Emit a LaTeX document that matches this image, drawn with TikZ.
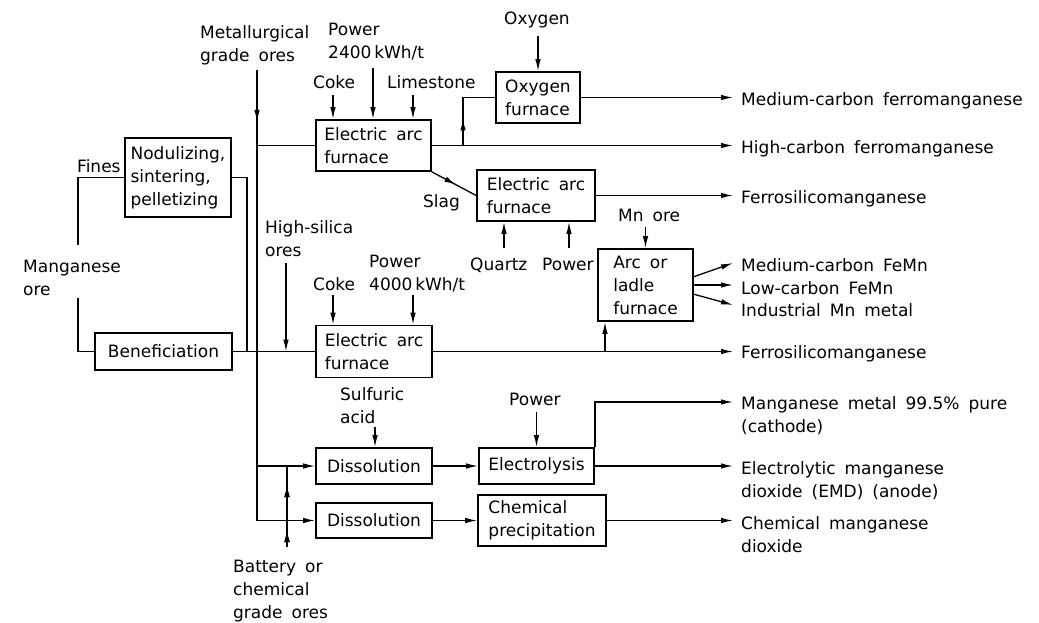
\documentclass[tikz,border=0pt]{standalone}
\usepackage{fontspec}
\setmainfont{DejaVu Sans}
\usetikzlibrary{arrows.meta,decorations.markings,calc}
\newcommand\diagfont{\fontsize{17}{23}\selectfont\spaceskip=9pt\relax}
\begin{document}
\begin{tikzpicture}[x=1pt,y=-1pt,
  >={Latex[length=12pt,width=5.5pt]},
  every node/.style={font=\diagfont},
  flow/.style={line width=1.3pt},
  box/.style={draw, line width=1.7pt, inner sep=0pt, align=left},
  lbl/.style={inner sep=0pt, anchor=north west, align=left},
  midarrow/.style={postaction={decorate}, decoration={markings, mark=at position #1 with {\arrow{>}}}}
]
\useasboundingbox (0,0) rectangle (1039,623);

% boxes
\node[box, minimum width=106, minimum height=79] (nod) at (178,177.5) {Nodulizing,\\sintering,\\pelletizing};
\node[box, align=center, minimum width=137, minimum height=37] (ben) at (163.5,351.5) {Beneficiation};
\node[box, minimum width=115, minimum height=51] (eaf1) at (373.5,145.5) {Electric arc\\furnace};
\node[box, minimum width=84, minimum height=51] (oxf) at (538,97.5) {Oxygen\\furnace};
\node[box, minimum width=118, minimum height=51] (eaf2) at (536,195.5) {Electric arc\\furnace};
\node[box, minimum width=116, minimum height=52] (eaf3) at (374,351.5) {Electric arc\\furnace};
\node[box, minimum width=95, minimum height=72] (alf) at (645.5,285) {Arc or\\ladle\\furnace};
\node[box, align=center, minimum width=116, minimum height=36] (dis1) at (374,466) {Dissolution};
\node[box, align=center, minimum width=116, minimum height=35] (dis2) at (374,520.5) {Dissolution};
\node[box, align=center, minimum width=115, minimum height=36] (ely) at (536.5,466) {Electrolysis};
\node[box, minimum width=128, minimum height=51] (chp) at (542,520.5) {Chemical\\precipitation};

% labels
\node[lbl] (lmet) at (200,25) {Metallurgical\\grade ores};
\node[lbl] (lpw1) at (328,23) {Power\\2400\,kWh/t};
\node[lbl] (lck1) at (313,75) {Coke};
\node[lbl] (llim) at (387,75) {Limestone};
\node[lbl] (loxy) at (504,12) {Oxygen};
\node[lbl] (lfin) at (77,159) {Fines};
\node[lbl] (lman) at (23,260) {Manganese\\ore};
\node[lbl] (lhis) at (265,220) {High-silica\\ores};
\node[lbl] (lslg) at (423,194) {Slag};
\node[lbl] (lmno) at (618,209) {Mn ore};
\node[lbl] (lqtz) at (470,258) {Quartz};
\node[lbl] (lpw2) at (542,258) {Power};
\node[lbl] (lck2) at (313,277) {Coke};
\node[lbl] (lpw3) at (369,255) {Power\\4000\,kWh/t};
\node[lbl] (lsul) at (340,387) {Sulfuric\\acid};
\node[lbl] (lpw4) at (509,393) {Power};
\node[lbl] (lbat) at (233,560) {Battery or\\chemical\\grade ores};

\node[lbl] (r1) at (741,92) {Medium-carbon ferromanganese};
\node[lbl] (r2) at (741,140) {High-carbon ferromanganese};
\node[lbl] (r3) at (741,190) {Ferrosilicomanganese};
\node[lbl] (r4) at (741,258) {Medium-carbon FeMn};
\node[lbl] (r5) at (741,281) {Low-carbon FeMn};
\node[lbl] (r6) at (741,303) {Industrial Mn metal};
\node[lbl] (r7) at (741,345) {Ferrosilicomanganese};
\node[lbl] (r8) at (741,396) {Manganese metal 99.5\% pure\\(cathode)};
\node[lbl] (r9) at (741,461) {Electrolytic manganese\\dioxide (EMD) (anode)};
\node[lbl] (r10) at (741,516) {Chemical manganese\\dioxide};

% coordinates
\coordinate (f1) at (78,245);
\coordinate (f2) at (78,298);
\coordinate (jn) at (247,351.5);
\coordinate (mt) at (257,70);
\coordinate (mb) at (257,466);
\coordinate (me) at (257,145.5);
\coordinate (bat) at (287,547);
\coordinate (batt) at (287,466);
\coordinate (hs) at (286,263);
\coordinate (c1) at (333,95);
\coordinate (p1) at (373,68);
\coordinate (l1) at (413,95);
\coordinate (o1) at (733,145.5);
\coordinate (br) at (463,145.5);
\coordinate (ox) at (538,36);
\coordinate (o0) at (733,97.5);
\coordinate (o2) at (733,195.5);
\coordinate (qz) at (504,248);
\coordinate (pw2) at (569,248);
\coordinate (mn) at (645.5,227);
\coordinate (c3) at (333,295);
\coordinate (p3) at (413,295);
\coordinate (o3) at (733,351.5);
\coordinate (up) at (605,351.5);
\coordinate (a1s) at (693,277);
\coordinate (a3s) at (693,294);
\coordinate (a1) at (733,263);
\coordinate (a2) at (733,285);
\coordinate (a3) at (733,305);
\coordinate (sa) at (375,427);
\coordinate (pw4) at (536.5,412);
\coordinate (m1) at (733,402);
\coordinate (m2) at (733,466);
\coordinate (m3) at (733,520.5);

% connectors
\draw[flow] (nod.west) -| (f1);
\draw[flow] (f2) |- (ben.west);
\draw[flow] (nod.east) -| (jn);
\draw[flow] (ben.east) -- (eaf3.west);
\draw[flow, midarrow=52pt] (mt) -- (mb);
\draw[flow] (me) -- (eaf1.west);
\draw[flow, ->] (mb) -- (dis1.west);
\draw[flow, ->] (mb) |- (dis2.west);
\draw[flow, midarrow=62pt, midarrow=17pt] (bat) -- (batt);
\draw[flow, ->] (hs) -- (hs |- ben.east);
\draw[flow, ->] (c1) -- (c1 |- eaf1.north);
\draw[flow, ->] (p1) -- (p1 |- eaf1.north);
\draw[flow, ->] (l1) -- (l1 |- eaf1.north);
\draw[flow, ->] (eaf1.east) -- (o1);
\draw[flow, midarrow=27pt] (br) |- (oxf.west);
\draw[flow, ->] (ox) -- (oxf.north);
\draw[flow, ->] (oxf.east) -- (o0);
\draw[flow, midarrow=0.55] (eaf1.south east) -- (eaf2.west);
\draw[flow, ->] (eaf2.east) -- (o2);
\draw[flow, ->] (qz) -- (qz |- eaf2.south);
\draw[flow, ->] (pw2) -- (pw2 |- eaf2.south);
\draw[flow, ->] (mn) -- (alf.north);
\draw[flow, ->] (c3) -- (c3 |- eaf3.north);
\draw[flow, ->] (p3) -- (p3 |- eaf3.north);
\draw[flow, ->] (eaf3.east) -- (o3);
\draw[flow, ->] (up) -- (up |- alf.south);
\draw[flow, ->] (a1s) -- (a1);
\draw[flow, ->] (alf.east) -- (a2);
\draw[flow, ->] (a3s) -- (a3);
\draw[flow, ->] (sa) -- (sa |- dis1.north);
\draw[flow, ->] (dis1.east) -- (ely.west);
\draw[flow, ->] (pw4) -- (ely.north);
\draw[flow, ->] (ely.north east) |- (m1);
\draw[flow, ->] (ely.east) -- (m2);
\draw[flow, ->] (dis2.east) -- (chp.west);
\draw[flow, ->] (chp.east) -- (m3);
\end{tikzpicture}
\end{document}
